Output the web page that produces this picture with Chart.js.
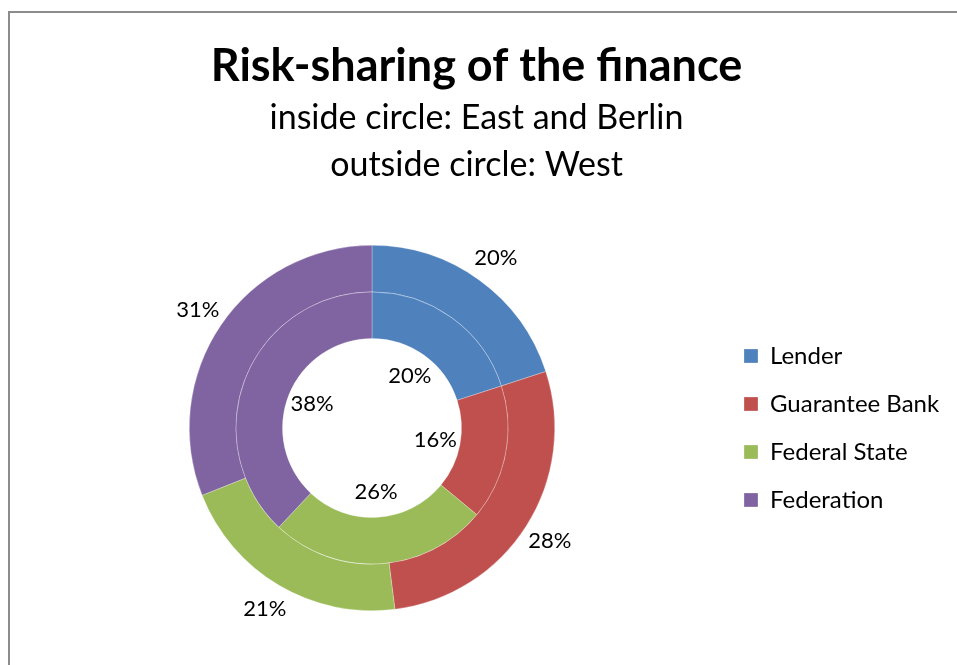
<!DOCTYPE html>
<html>
<head>
<meta charset="utf-8">
<script src="https://cdn.jsdelivr.net/npm/chart.js@4/dist/chart.umd.min.js"></script>
<style>
  html, body { margin: 0; padding: 0; background: #fff; overflow: hidden; }
  #frame {
    position: absolute; left: 8px; top: 11px; width: 1200px; height: 900px;
    border-left: 2px solid #8c8c8c; border-top: 2px solid #8c8c8c;
  }
  #wrap { position: absolute; left: 0; top: 0; width: 957px; height: 665px; }
</style>
</head>
<body>
<div id="frame"></div>
<div id="wrap"><canvas id="riskChart" width="957" height="665"></canvas></div>
<script>
const parties = ['Lender', 'Guarantee Bank', 'Federal State', 'Federation'];
const partyColors = ['#4F81BD', '#C0504D', '#9BBB59', '#8064A2'];
const westShares = [20, 28, 21, 31];        // outer ring
const eastBerlinShares = [20, 16, 26, 38];  // inner ring

const FONT = 'Lato, "Open Sans", sans-serif';

// percentage labels: outer ring outside the circle, inner ring inside the hole
const ringLabels = {
  id: 'ringLabels',
  afterLayout(chart) {
    // let long legend entries run into the right margin instead of being clipped
    const lg = chart.legend;
    if (lg) {
      lg.right = chart.width;
      lg.width = lg.right - lg.left;
    }
  },
  afterDatasetsDraw(chart) {
    const { ctx } = chart;
    ctx.save();
    ctx.font = `22px ${FONT}`;
    ctx.fillStyle = '#000';
    ctx.textAlign = 'center';
    ctx.textBaseline = 'middle';
    chart.data.datasets.forEach((ds, di) => {
      const meta = chart.getDatasetMeta(di);
      meta.data.forEach((arc, i) => {
        const p = arc.getProps(['x', 'y', 'startAngle', 'endAngle', 'innerRadius', 'outerRadius'], true);
        const mid = (p.startAngle + p.endAngle) / 2;
        const r = di === 0 ? p.outerRadius + 28 : p.innerRadius * 0.72;
        ctx.fillText(ds.data[i] + '%', p.x + Math.cos(mid) * r, p.y + Math.sin(mid) * r);
      });
    });
    ctx.restore();
  }
};

new Chart(document.getElementById('riskChart'), {
  type: 'doughnut',
  data: {
    labels: parties,
    datasets: [
      {
        label: 'West',
        data: westShares,
        backgroundColor: partyColors,
        borderColor: 'rgba(255,255,255,0.45)',
        borderWidth: 0.6
      },
      {
        label: 'East and Berlin',
        data: eastBerlinShares,
        backgroundColor: partyColors,
        borderColor: 'rgba(255,255,255,0.45)',
        borderWidth: 0.6
      }
    ]
  },
  options: {
    responsive: false,
    animation: false,
    cutout: '49%',
    layout: { padding: { left: 24, right: 28, top: 0, bottom: 54 } },
    plugins: {
      title: {
        display: true,
        text: 'Risk-sharing of the finance',
        color: '#000',
        font: { family: FONT, size: 45, weight: 'bold', lineHeight: 1.2 },
        padding: { top: 39, bottom: 0 }
      },
      subtitle: {
        display: true,
        text: ['inside circle: East and Berlin', 'outside circle: West'],
        color: '#000',
        font: { family: FONT, size: 34, lineHeight: 1.37 },
        padding: { top: 1.7, bottom: 57.1 }
      },
      legend: {
        position: 'right',
        fullSize: false,
        maxWidth: 209,
        labels: {
          color: '#000',
          font: { family: FONT, size: 24 },
          boxWidth: 14,
          boxHeight: 14,
          padding: 24
        }
      },
      tooltip: { enabled: false }
    }
  },
  plugins: [ringLabels]
});
</script>
</body>
</html>
